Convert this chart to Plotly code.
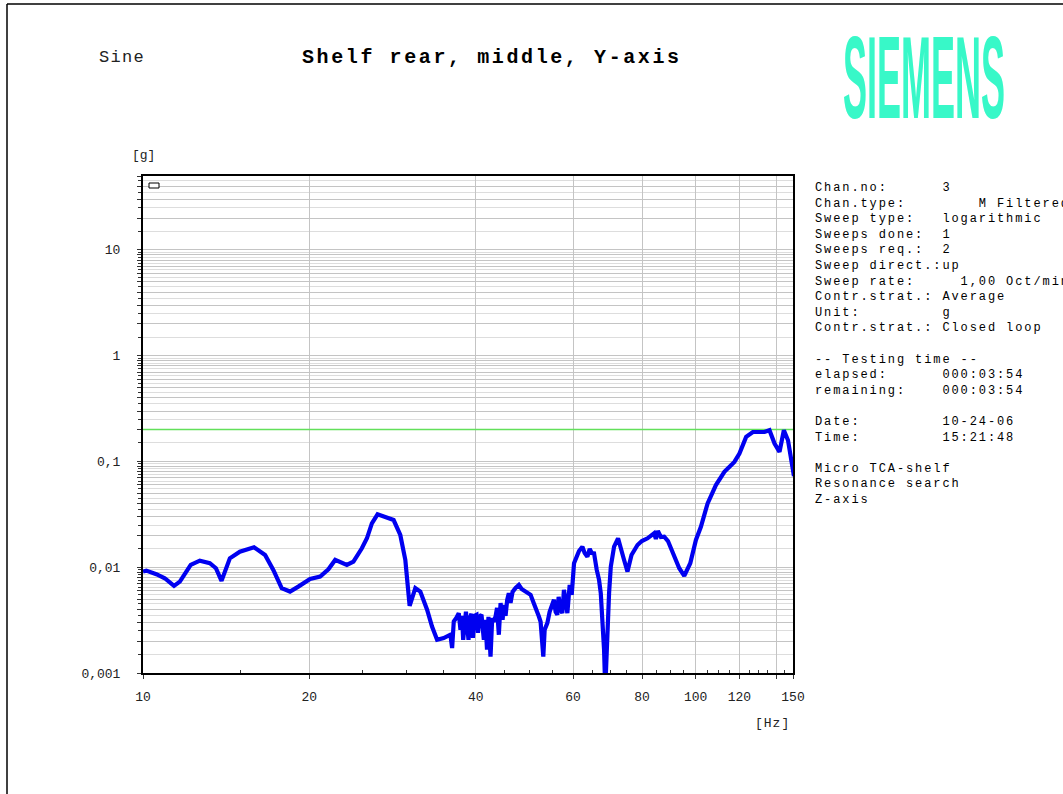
import plotly.graph_objects as go
import numpy as np

# ---------------- data ----------------
freq_hz = [10.0, 10.14, 10.57, 10.95, 11.38, 11.66, 12.20, 12.67, 13.21, 13.55,
           13.87, 14.36, 14.97, 15.88, 16.63, 17.21, 17.82, 18.45, 19.10, 20.06,
           20.92, 21.65, 22.27, 22.74, 23.38, 24.03, 24.89, 25.42, 25.95, 26.57,
           28.41, 29.21, 29.83, 30.37, 31.10, 31.75, 32.66, 33.34, 34.05,
           35.00, 35.54, 35.99, 36.25, 36.50, 36.91, 37.27, 37.53, 37.77, 37.96,
           38.16, 38.40, 38.59, 38.81, 39.05, 39.29, 39.54, 39.79, 40.13, 40.38,
           40.63, 40.97, 41.37, 41.66, 41.92, 42.18, 42.54, 42.84, 43.08, 43.44,
           43.71, 44.04, 44.36, 44.73, 45.01, 45.29, 45.60, 45.91, 46.24, 46.63,
           47.22, 47.87, 48.42, 49.02, 49.64, 50.27, 50.90, 51.55, 52.04, 52.41,
           53.00, 53.30, 53.90, 54.42, 55.04, 55.41, 55.79, 56.19, 56.50, 56.97,
           57.38, 57.76, 58.17, 58.59, 59.16, 59.66, 60.24, 60.92, 61.51, 62.37,
           62.97, 63.69, 64.31, 64.84, 65.48, 66.22, 66.86, 67.34, 67.81, 68.27,
           68.61, 69.04, 69.33, 69.71, 70.21, 71.18, 72.37, 73.19,
           74.21, 75.27, 76.54, 78.48, 79.91, 81.83, 82.98, 84.1, 84.72, 85.43,
           86.5, 87.7, 89.1, 90.84, 93.39, 95.35,
           97.77, 100.1, 102.2, 105.1, 108.8, 112.7, 117.5, 120.0, 123.4, 126.9,
           133.2, 136.0, 138.9, 141.8, 144.4, 146.9, 148.9, 150.6]
accel_g = [0.00909, 0.00929, 0.00859, 0.00787, 0.00666, 0.00731, 0.01051, 0.01154, 0.01091, 0.00979,
           0.00743, 0.01216, 0.01403, 0.01544, 0.01306, 0.00943, 0.00634, 0.00589, 0.00656, 0.00776,
           0.00815, 0.00957, 0.01172, 0.0113, 0.01051, 0.0113, 0.0151, 0.01877, 0.026, 0.0316,
           0.02794, 0.02017, 0.01172, 0.00431, 0.00634, 0.00589, 0.00396, 0.00275, 0.00206,
           0.00214, 0.00225, 0.00230, 0.00172, 0.00307, 0.00333, 0.00368, 0.00256, 0.00347, 0.00206,
           0.00318, 0.00379, 0.00286, 0.00206, 0.00333, 0.00363, 0.00215, 0.00347, 0.00355, 0.00240,
           0.00340, 0.00355, 0.00206, 0.00318, 0.00166, 0.00340, 0.00143, 0.00330, 0.00305, 0.00342,
           0.00413, 0.00230, 0.00458, 0.00318, 0.00441, 0.00347, 0.00492, 0.00568, 0.00461, 0.00585,
           0.00638, 0.00681, 0.00624, 0.00598, 0.00572, 0.00548, 0.00461, 0.00396, 0.00342, 0.00305,
           0.00143, 0.00256, 0.00296, 0.00379, 0.00441, 0.00492, 0.00379, 0.00355, 0.00525, 0.00396,
           0.00368, 0.00611, 0.00492, 0.00368, 0.00681, 0.00548, 0.01091, 0.01279, 0.01425, 0.01564,
           0.01364, 0.01260, 0.01488, 0.01364, 0.01355, 0.00943, 0.00759, 0.00568, 0.00318, 0.00166,
           0.0007, 0.00206, 0.00396, 0.00568, 0.01013, 0.01564, 0.01877, 0.01564,
           0.01172, 0.00909, 0.01306, 0.01623, 0.0177, 0.01877, 0.01974, 0.02094, 0.01849, 0.0220,
           0.01932, 0.01945, 0.0177, 0.01355, 0.00979, 0.00828,
           0.01091, 0.0181, 0.02415, 0.04016, 0.05975, 0.0798, 0.0991, 0.119, 0.1706, 0.190,
           0.190, 0.1973, 0.1478, 0.1232, 0.1973, 0.1588, 0.1105, 0.0727]

limit_freq = [10, 150]
limit_g = [0.2, 0.2]

x_tick_vals = [10, 20, 40, 60, 80, 100, 120, 140, 150]
x_tick_text = ["10", "20", "40", "60", "80", "100", "120", "", "150"]
y_decade_vals = [0.001, 0.01, 0.1, 1, 10]
y_decade_text = ["0,001", "0,01", "0,1", "1", "10"]

title_text = "Shelf rear, middle, Y-axis"
mode_text = "Sine"
logo_text = "SIEMENS"
y_unit = "[g]"
x_unit = "[Hz]"

info_lines = [
    "Chan.no:      3",
    "Chan.type:        M Filtered",
    "Sweep type:   logarithmic",
    "Sweeps done:  1",
    "Sweeps req.:  2",
    "Sweep direct.:up",
    "Sweep rate:     1,00 Oct/min",
    "Contr.strat.: Average",
    "Unit:         g",
    "Contr.strat.: Closed loop",
    " ",
    "-- Testing time --",
    "elapsed:      000:03:54",
    "remaining:    000:03:54",
    " ",
    "Date:         10-24-06",
    "Time:         15:21:48",
    " ",
    "Micro TCA-shelf",
    "Resonance search",
    "Z-axis",
]

# ---------------- layout geometry ----------------
W, H = 1063, 794
L, R, T, B = 143, 793, 176, 673  # plot area in px


def px(xp):
    return (xp - L) / (R - L)


def py(yp):
    return (B - yp) / (B - T)


MONO = "Liberation Mono, Courier New, monospace"

# y grid values (integer multiples: major, half values: minor)
y_major = []
y_minor = []
for e in range(-3, 2):
    for k in range(1, 10):
        v = k * 10 ** e
        if v <= 50:
            y_major.append(v)
        vm = (k + 0.5) * 10 ** e
        if vm < 50:
            y_minor.append(vm)
y_major_text = [y_decade_text[y_decade_vals.index(v)] if v in y_decade_vals else "" for v in y_major]

x_minor = [v for v in range(15, 150, 5) if v not in x_tick_vals]

fig = go.Figure()
fig.add_trace(go.Scatter(x=limit_freq, y=limit_g, mode="lines",
                         line=dict(color="#62E05A", width=1.5), hoverinfo="skip"))
fig.add_trace(go.Scatter(x=freq_hz, y=accel_g, mode="lines",
                         line=dict(color="#0000F0", width=4.2)))

fig.update_layout(
    width=W, height=H,
    margin=dict(l=L, r=W - R, t=T, b=H - B, pad=0),
    paper_bgcolor="white", plot_bgcolor="white",
    showlegend=False,
    font=dict(family=MONO, size=13, color="#222"),
)

fig.update_xaxes(
    type="log", range=[1, np.log10(150)],
    tickmode="array", tickvals=x_tick_vals, ticktext=x_tick_text,
    showgrid=True, gridcolor="#c4c4c4", gridwidth=1,
    ticks="outside", ticklen=4, tickcolor="#333",
    showline=True, linecolor="black", linewidth=2, mirror=True,
    ticklabelstandoff=6,
    tickfont=dict(family=MONO, size=13, color="#222"),
    minor=dict(tickmode="array", tickvals=x_minor, ticks="inside", ticklen=3,
               tickcolor="#333", showgrid=False),
    zeroline=False,
)
fig.update_yaxes(
    type="log", range=[-3, np.log10(50)],
    tickmode="array", tickvals=y_major, ticktext=y_major_text,
    showgrid=True, gridcolor="#c4c4c4", gridwidth=1,
    ticks="outside", ticklen=4, tickcolor="#333",
    showline=True, linecolor="black", linewidth=2, mirror=True,
    ticklabelstandoff=14,
    tickfont=dict(family=MONO, size=13, color="#222"),
    minor=dict(tickmode="array", tickvals=y_minor, ticks="outside", ticklen=3,
               tickcolor="#333", showgrid=True, gridcolor="#dddddd", gridwidth=1),
    zeroline=False,
)

ann = []
ann.append(dict(text=f'<span style="letter-spacing:1.3px">{mode_text}</span>',
                x=px(97), y=py(57), xref="paper", yref="paper", xanchor="left", yanchor="middle",
                showarrow=False, font=dict(family=MONO, size=17, color="#222")))
ann.append(dict(text=f'<b><span style="letter-spacing:2.6px">{title_text}</span></b>',
                x=px(300), y=py(57), xref="paper", yref="paper", xanchor="left", yanchor="middle",
                showarrow=False, font=dict(family=MONO, size=20, color="black")))
ann.append(dict(text=f"<b>{logo_text}</b>",
                x=px(924), y=py(79), xref="paper", yref="paper", xanchor="center", yanchor="middle",
                showarrow=False, font=dict(family="Liberation Sans, Arial, sans-serif", size=60, color="#38F8C8")))
ann.append(dict(text=y_unit, x=px(143), y=py(155), xref="paper", yref="paper",
                xanchor="center", yanchor="middle", showarrow=False,
                font=dict(family=MONO, size=13, color="#222")))
ann.append(dict(text=f'<span style="letter-spacing:1px">{x_unit}</span>', x=px(772), y=py(723),
                xref="paper", yref="paper", xanchor="center", yanchor="middle", showarrow=False,
                font=dict(family=MONO, size=13, color="#222")))
info_html = "<br>".join(
    f'<span style="letter-spacing:1.9px;white-space:pre">{ln}</span>' for ln in info_lines)
ann.append(dict(text=info_html, x=px(813), y=py(179), xref="paper", yref="paper",
                xanchor="left", yanchor="top", align="left", showarrow=False,
                font=dict(family=MONO, size=12, color="black")))
fig.update_layout(annotations=ann)

shapes = [
    # page frame
    dict(type="line", xref="paper", yref="paper", x0=px(7), x1=px(7), y0=py(4), y1=py(800),
         line=dict(color="black", width=1.5)),
    dict(type="line", xref="paper", yref="paper", x0=px(7), x1=px(1070), y0=py(4), y1=py(4),
         line=dict(color="black", width=1.5)),
    # small legend box in plot corner
    dict(type="rect", xref="paper", yref="paper", x0=px(149), x1=px(159), y0=py(188), y1=py(183),
         line=dict(color="black", width=1), fillcolor="white"),
]
fig.update_layout(shapes=shapes)

post_js = """
var gd = document.getElementById('{plot_id}');
var els = gd.querySelectorAll('text.annotation-text');
els.forEach(function(t){
  if (t.textContent === 'SIEMENS') {
    var b = t.getBBox();
    var cx = b.x + b.width / 2, cy = b.y + b.height / 2;
    var sx = 162 / b.width, sy = 1.95;
    t.setAttribute('transform', 'translate(' + cx + ',' + cy + ') scale(' + sx + ',' + sy + ') translate(' + (-cx) + ',' + (-cy) + ')');
  }
});
"""

fig.write_html("out.html", post_script=post_js)
